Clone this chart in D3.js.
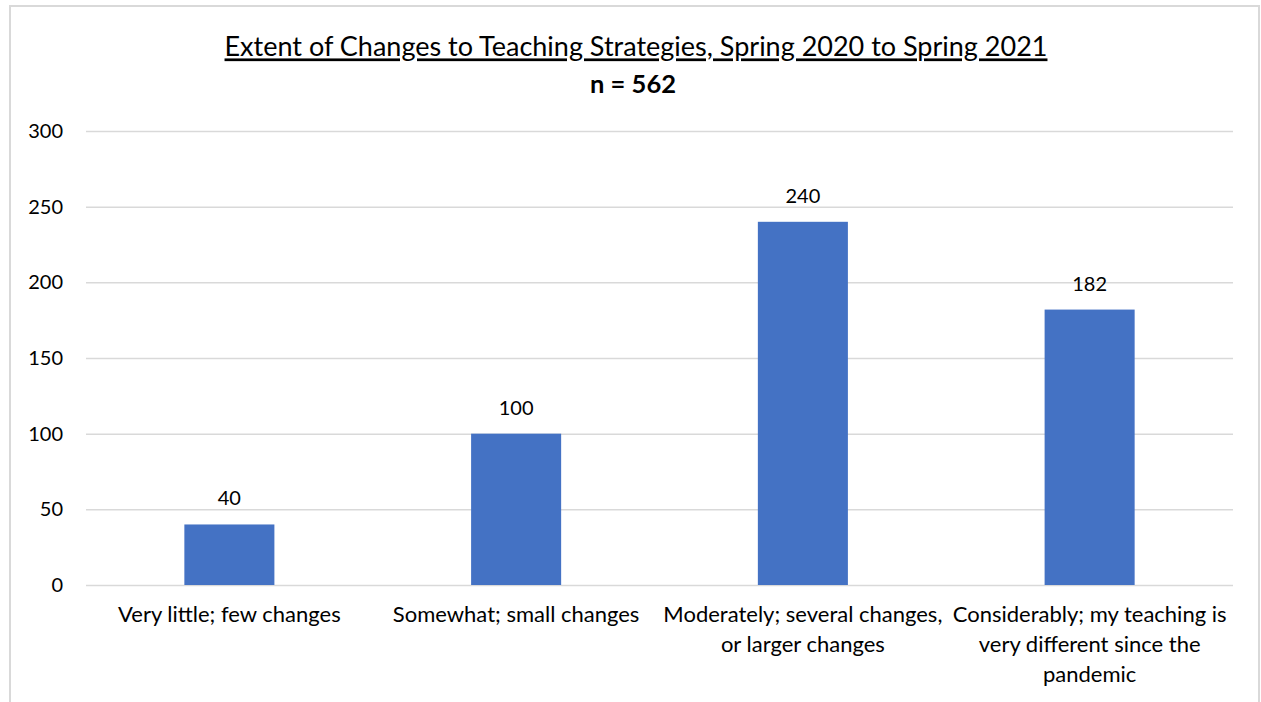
<!DOCTYPE html>
<html>
<head>
<meta charset="utf-8">
<script src="https://cdn.jsdelivr.net/npm/d3@7"></script>
<style>
  body { margin: 0; background: #fff; }
  svg { display: block; font-family: Lato, 'Open Sans', sans-serif; }
  .grid line { stroke: #d9d9d9; stroke-width: 1.5; }
  .grid .domain { display: none; }
  .tick text { fill: #000; }
</style>
</head>
<body>
<div id="chart"></div>
<script>
const WIDTH = 1261
const HEIGHT = 702

const TITLE = 'Extent of Changes to Teaching Strategies, Spring 2020 to Spring 2021'
const SUBTITLE = 'n = 562'

const categories = [
  'Very little; few changes',
  'Somewhat; small changes',
  'Moderately; several changes,\nor larger changes',
  'Considerably; my teaching is\nvery different since the\npandemic'
]
const values = [40, 100, 240, 182]
const y_ticks = [0, 50, 100, 150, 200, 250, 300]

const M = { top: 131, right: 28, bottom: 117, left: 86 }

let svg = d3.select('#chart')
  .append('svg')
    .attr('width', WIDTH)
    .attr('height', HEIGHT)

// chart border (bottom edge falls outside the picture)
svg.append('rect')
  .attr('x', 10)
  .attr('y', 6)
  .attr('width', 1249)
  .attr('height', 720)
  .attr('fill', 'none')
  .attr('stroke', '#d9d9d9')
  .attr('stroke-width', 2)

let x = d3.scaleBand()
  .domain(categories)
  .range([M.left, WIDTH - M.right])
  .paddingInner(0.686)
  .paddingOuter(0.343)

let y = d3.scaleLinear()
  .domain([0, 300])
  .range([HEIGHT - M.bottom, M.top])

// gridlines
svg.append('g')
    .attr('class', 'grid')
    .attr('transform', 'translate(' + M.left + ',0)')
  .call(d3.axisLeft(y).tickValues(y_ticks).tickSize(-(WIDTH - M.left - M.right)).tickFormat(''))

// y tick labels
svg.append('g')
  .selectAll('text')
    .data(y_ticks)
  .enter().append('text')
    .attr('x', 63)
    .attr('y', (d) => y(d))
    .attr('dy', '0.35em')
    .attr('text-anchor', 'end')
    .attr('font-size', 20)
    .text((d) => d)

// bars
svg.append('g')
  .selectAll('rect')
    .data(values)
  .enter().append('rect')
    .attr('x', (d, i) => x(categories[i]))
    .attr('y', (d) => y(d))
    .attr('width', x.bandwidth())
    .attr('height', (d) => y(0) - y(d))
    .attr('fill', '#4472c4')

// value labels
svg.append('g')
  .selectAll('text')
    .data(values)
  .enter().append('text')
    .attr('x', (d, i) => x(categories[i]) + x.bandwidth() / 2)
    .attr('y', (d) => y(d) - 26)
    .attr('dy', '0.35em')
    .attr('text-anchor', 'middle')
    .attr('font-size', 20)
    .text((d) => d)

// category labels
let cat = svg.append('g')
  .selectAll('text')
    .data(categories)
  .enter().append('text')
    .attr('text-anchor', 'middle')
    .attr('font-size', 22)
    .attr('transform', (d) => 'translate(' + (x(d) + x.bandwidth() / 2) + ',' + 614 + ')')

cat.selectAll('tspan')
    .data((d) => d.split('\n'))
  .enter().append('tspan')
    .attr('x', 0)
    .attr('y', (d, i) => i * 30)
    .attr('dy', '0.35em')
    .text((d) => d)

// titles
svg.append('text')
  .attr('x', 636)
  .attr('y', 47)
  .attr('dy', '0.35em')
  .attr('text-anchor', 'middle')
  .attr('font-size', 27)
  .attr('text-decoration', 'underline')
  .text(TITLE)

svg.append('text')
  .attr('x', 633)
  .attr('y', 84)
  .attr('dy', '0.35em')
  .attr('text-anchor', 'middle')
  .attr('font-size', 25.5)
  .attr('font-weight', 'bold')
  .text(SUBTITLE)
</script>
</body>
</html>
